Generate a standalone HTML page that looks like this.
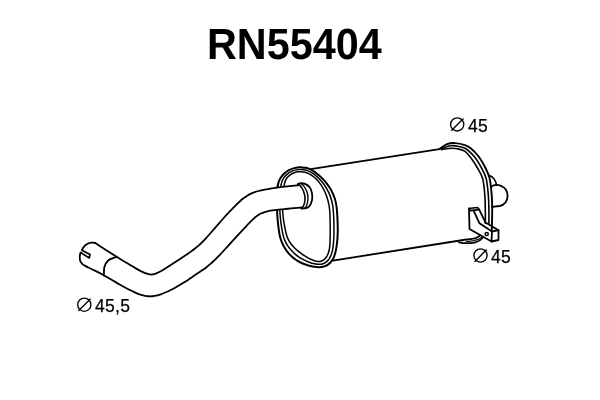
<!DOCTYPE html>
<html><head><meta charset="utf-8"><style>
html,body{margin:0;padding:0;background:#fff;width:600px;height:400px;overflow:hidden}
.t{will-change:transform}
.t{position:absolute;font-family:"Liberation Sans",sans-serif;line-height:1;color:#000;white-space:nowrap}
#title{left:207px;top:22px;font-size:43px;font-weight:bold;transform-origin:0 0;transform:scaleX(0.96)}
.lab{font-size:17.5px;letter-spacing:0.3px;-webkit-text-stroke:0.25px #000}
svg{position:absolute;left:0;top:0}
</style></head><body>
<svg width="600" height="80" viewBox="0 0 600 80" style="will-change:transform"><text x="207" y="58.5" transform="translate(207 0) scale(0.948 1) translate(-207 0)" font-family="Liberation Sans" font-weight="bold" font-size="43.6" text-rendering="geometricPrecision">RN55404</text></svg>
<svg width="600" height="400" viewBox="0 0 600 400">
<path d="M277.51 186.75 C277.73 185.39 278.01 184.10 278.39 182.87 C278.75 181.70 279.19 180.60 279.71 179.54 C280.23 178.50 280.83 177.51 281.50 176.58 C282.17 175.65 282.93 174.76 283.75 173.95 C284.57 173.13 285.46 172.36 286.40 171.69 C287.34 171.01 288.35 170.42 289.39 169.90 C290.43 169.38 291.53 168.94 292.63 168.58 C293.72 168.22 294.86 167.94 295.98 167.74 C297.09 167.54 298.22 167.42 299.32 167.37 C300.40 167.32 301.49 167.34 302.54 167.41 C303.54 167.48 304.52 167.61 305.47 167.79 C306.38 167.97 307.25 168.18 308.13 168.48 C309.03 168.79 309.90 169.16 310.79 169.61 C311.76 170.10 312.74 170.69 313.72 171.34 C314.78 172.04 315.87 172.84 316.94 173.69 C318.06 174.58 319.18 175.56 320.28 176.58 C321.42 177.64 322.55 178.76 323.63 179.93 C324.73 181.11 325.81 182.36 326.81 183.64 C327.80 184.91 328.74 186.24 329.60 187.58 C330.44 188.90 331.22 190.27 331.91 191.64 C332.59 192.97 333.19 194.34 333.72 195.68 C334.23 196.97 334.67 198.26 335.05 199.55 C335.42 200.81 335.72 202.06 335.98 203.35 C336.25 204.68 336.44 206.02 336.62 207.41 C336.81 208.87 336.94 210.40 337.06 211.92 C337.18 213.47 337.27 215.07 337.35 216.61 C337.43 218.10 337.48 219.58 337.54 221.01 C337.59 222.37 337.64 223.68 337.68 225.00 C337.71 226.29 337.75 227.55 337.75 228.84 C337.75 230.15 337.73 231.46 337.70 232.79 C337.67 234.14 337.62 235.50 337.54 236.87 C337.46 238.25 337.35 239.64 337.22 241.02 C337.09 242.40 336.93 243.80 336.74 245.17 C336.55 246.53 336.34 247.90 336.08 249.22 C335.83 250.51 335.55 251.79 335.21 253.02 C334.88 254.22 334.54 255.40 334.10 256.51 C333.67 257.59 333.21 258.64 332.63 259.61 C332.06 260.56 331.41 261.46 330.68 262.26 C329.96 263.05 329.15 263.77 328.31 264.39 C327.48 264.99 326.59 265.53 325.68 265.94 C324.78 266.34 323.84 266.64 322.88 266.85 C321.90 267.06 320.89 267.16 319.85 267.20 C318.74 267.24 317.59 267.18 316.41 267.07 C315.15 266.95 313.82 266.74 312.51 266.48 C311.14 266.21 309.75 265.85 308.37 265.45 C306.97 265.04 305.56 264.58 304.18 264.05 C302.79 263.52 301.40 262.92 300.07 262.25 C298.73 261.57 297.42 260.83 296.17 260.00 C294.92 259.17 293.72 258.27 292.58 257.29 C291.44 256.31 290.35 255.24 289.33 254.12 C288.30 252.99 287.33 251.79 286.43 250.54 C285.52 249.28 284.67 247.95 283.91 246.60 C283.16 245.26 282.48 243.87 281.90 242.48 C281.33 241.12 280.86 239.74 280.46 238.34 C280.06 236.95 279.78 235.56 279.50 234.12 C279.21 232.62 278.99 231.10 278.77 229.52 C278.53 227.85 278.33 226.11 278.13 224.36 C277.93 222.54 277.73 220.67 277.58 218.81 C277.42 216.93 277.30 215.03 277.20 213.14 C277.10 211.26 277.04 209.37 276.99 207.49 C276.94 205.63 276.93 203.77 276.91 201.93 C276.89 200.11 276.87 198.28 276.89 196.50 C276.91 194.76 276.93 193.02 277.04 191.36 C277.14 189.78 277.27 188.21 277.51 186.75Z" fill="none" stroke="#000" stroke-width="2.0" stroke-linejoin="round" stroke-linecap="round"/>
<path d="M280.61 187.23 C280.82 185.91 281.08 184.61 281.40 183.44 C281.69 182.39 282.00 181.45 282.41 180.52 C282.81 179.62 283.27 178.75 283.80 177.94 C284.33 177.12 284.93 176.35 285.61 175.63 C286.31 174.88 287.12 174.15 287.94 173.53 C288.75 172.92 289.60 172.39 290.50 171.91 C291.43 171.42 292.45 170.98 293.45 170.64 C294.42 170.31 295.41 170.07 296.40 169.88 C297.39 169.70 298.40 169.58 299.40 169.53 C300.39 169.48 301.40 169.51 302.35 169.59 C303.26 169.66 304.14 169.80 304.99 169.97 C305.80 170.14 306.54 170.33 307.32 170.60 C308.14 170.88 308.95 171.21 309.78 171.62 C310.68 172.06 311.59 172.59 312.50 173.18 C313.48 173.82 314.48 174.55 315.45 175.34 C316.49 176.18 317.53 177.12 318.54 178.12 C319.61 179.18 320.70 180.37 321.69 181.54 C322.65 182.68 323.56 183.82 324.41 185.03 C325.27 186.25 326.09 187.53 326.83 188.84 C327.58 190.16 328.28 191.58 328.89 192.92 C329.46 194.17 329.94 195.36 330.40 196.62 C330.86 197.89 331.28 199.22 331.63 200.49 C331.96 201.68 332.21 202.81 332.44 204.01 C332.68 205.24 332.87 206.49 333.03 207.79 C333.20 209.16 333.32 210.58 333.43 212.03 C333.54 213.56 333.61 215.22 333.68 216.76 C333.74 218.22 333.79 219.65 333.83 221.04 C333.87 222.36 333.91 223.61 333.93 224.91 C333.95 226.23 333.97 227.59 333.97 228.91 C333.97 230.21 333.97 231.47 333.95 232.76 C333.93 234.08 333.91 235.41 333.86 236.75 C333.81 238.12 333.74 239.54 333.65 240.90 C333.56 242.23 333.45 243.54 333.31 244.84 C333.17 246.13 333.01 247.45 332.79 248.69 C332.58 249.87 332.35 251.01 332.05 252.12 C331.76 253.19 331.43 254.27 331.04 255.25 C330.67 256.17 330.28 257.03 329.79 257.86 C329.30 258.69 328.71 259.52 328.10 260.21 C327.54 260.85 326.95 261.40 326.30 261.90 C325.65 262.40 324.92 262.86 324.19 263.21 C323.49 263.54 322.78 263.79 322.04 263.97 C321.29 264.15 320.53 264.25 319.71 264.29 C318.81 264.34 317.85 264.30 316.87 264.20 C315.79 264.09 314.62 263.87 313.48 263.59 C312.28 263.30 311.06 262.91 309.83 262.47 C308.53 262.00 307.16 261.43 305.88 260.84 C304.62 260.26 303.39 259.65 302.19 258.97 C300.98 258.29 299.81 257.56 298.65 256.76 C297.46 255.93 296.26 255.00 295.16 254.06 C294.09 253.14 293.08 252.19 292.12 251.18 C291.15 250.17 290.22 249.12 289.37 248.02 C288.52 246.93 287.72 245.79 287.00 244.60 C286.27 243.40 285.58 242.12 285.02 240.86 C284.49 239.66 284.07 238.46 283.69 237.23 C283.31 235.99 283.03 234.78 282.74 233.45 C282.42 231.99 282.13 230.40 281.86 228.83 C281.58 227.22 281.34 225.60 281.11 223.91 C280.86 222.11 280.62 220.18 280.43 218.34 C280.24 216.53 280.10 214.77 279.98 212.95 C279.86 211.09 279.78 209.16 279.73 207.31 C279.68 205.52 279.68 203.79 279.69 202.02 C279.70 200.22 279.74 198.35 279.81 196.59 C279.88 194.91 279.95 193.27 280.09 191.68 C280.22 190.16 280.38 188.65 280.61 187.23Z" fill="none" stroke="#000" stroke-width="1.5" stroke-linejoin="round" stroke-linecap="round"/>
<path d="M283.86 186.89 C284.02 185.97 284.28 184.43 284.58 183.30 C284.85 182.26 285.13 181.28 285.55 180.36 C285.96 179.45 286.47 178.59 287.08 177.80 C287.70 176.99 288.44 176.24 289.23 175.57 C290.04 174.89 290.95 174.28 291.89 173.77 C292.84 173.26 293.86 172.83 294.90 172.50 C295.95 172.17 297.05 171.94 298.15 171.81 C299.25 171.68 300.39 171.64 301.50 171.71 C302.62 171.78 303.74 171.96 304.84 172.23 C305.95 172.50 307.06 172.88 308.12 173.34 C309.20 173.81 310.26 174.38 311.27 175.02 C312.30 175.67 313.30 176.43 314.25 177.24 C315.23 178.07 316.17 178.99 317.07 179.96 C318.00 180.96 318.90 182.03 319.75 183.15 C320.63 184.31 321.46 185.53 322.24 186.81 C323.04 188.13 323.79 189.52 324.48 190.96 C325.19 192.45 325.84 194.04 326.42 195.62 C327.00 197.21 327.52 198.88 327.95 200.49 C328.37 202.05 328.72 203.61 329.00 205.14 C329.26 206.61 329.44 208.02 329.59 209.48 C329.74 210.95 329.82 212.41 329.90 213.94 C329.99 215.55 330.04 217.23 330.08 218.92 C330.13 220.68 330.15 222.52 330.17 224.30 C330.19 226.04 330.20 227.80 330.20 229.48 C330.20 231.06 330.21 232.58 330.20 234.08 C330.19 235.52 330.18 236.90 330.15 238.30 C330.12 239.69 330.08 241.06 330.00 242.44 C329.93 243.82 329.86 245.22 329.70 246.57 C329.54 247.89 329.36 249.22 329.06 250.48 C328.77 251.69 328.42 252.89 327.97 253.99 C327.54 255.04 327.03 256.07 326.43 256.96 C325.86 257.80 325.21 258.60 324.49 259.23 C323.80 259.83 323.04 260.35 322.22 260.71 C321.40 261.07 320.50 261.30 319.56 261.39 C318.54 261.48 317.44 261.37 316.33 261.17 C315.10 260.94 313.79 260.50 312.51 260.01 C311.15 259.49 309.76 258.80 308.41 258.09 C307.03 257.36 305.65 256.55 304.31 255.70 C302.96 254.84 301.64 253.91 300.36 252.94 C299.08 251.97 297.83 250.95 296.64 249.88 C295.46 248.82 294.31 247.70 293.25 246.54 C292.21 245.40 291.20 244.21 290.34 242.97 C289.50 241.77 288.76 240.52 288.14 239.23 C287.53 237.97 287.08 236.67 286.66 235.32 C286.22 233.94 285.91 232.52 285.57 231.04 C285.21 229.47 284.88 227.82 284.57 226.14 C284.24 224.38 283.93 222.53 283.66 220.70 C283.39 218.83 283.14 216.93 282.96 215.04 C282.78 213.15 282.64 211.26 282.56 209.37 C282.48 207.50 282.44 205.63 282.45 203.77 C282.46 201.93 282.52 200.08 282.62 198.27 C282.72 196.50 282.86 194.71 283.04 193.01 C283.21 191.39 283.48 189.40 283.64 188.29 C283.73 187.68 283.76 187.46 283.86 186.89Z" fill="none" stroke="#000" stroke-width="1.5" stroke-linejoin="round" stroke-linecap="round"/>
<path d="M310.6 169.2 L439.5 149.1" fill="none" stroke="#000" stroke-width="1.8" stroke-linejoin="round" stroke-linecap="round"/>
<path d="M332.9 260.6 L463.3 240 C468 239.3 473.3 238.9 476.5 237.8 L479.5 236" fill="none" stroke="#000" stroke-width="1.8" stroke-linejoin="round" stroke-linecap="round"/>
<path d="M439.50 149.10 C442.00 147.43 444.34 145.09 447.00 144.10 C449.52 143.16 452.19 142.98 455.00 143.10 C458.16 143.23 462.16 144.15 465.00 145.20 C467.33 146.06 468.98 146.94 471.00 148.50 C473.64 150.54 476.62 153.84 479.00 157.00 C481.49 160.31 483.71 164.35 485.50 168.00 C487.15 171.35 488.50 174.15 489.50 178.00 C490.76 182.85 491.25 189.50 491.70 195.00 C492.12 200.15 492.16 205.28 492.20 210.00 C492.24 214.22 492.07 218.40 492.00 222.00 C491.94 224.94 491.87 227.33 491.80 230.00" fill="none" stroke="#000" stroke-width="1.9" stroke-linejoin="round" stroke-linecap="round"/>
<path d="M441.50 148.70 C444.50 147.73 447.84 146.19 450.50 145.80 C452.53 145.50 453.96 145.61 456.00 145.90 C458.65 146.27 462.11 146.71 465.00 148.30 C468.49 150.22 472.21 154.12 475.00 157.50 C477.66 160.72 479.63 164.48 481.50 168.00 C483.26 171.32 484.89 174.13 486.00 178.00 C487.38 182.83 487.82 189.50 488.30 195.00 C488.75 200.15 488.80 205.13 488.90 210.00 C488.99 214.62 488.90 219.00 488.90 223.50" fill="none" stroke="#000" stroke-width="1.6" stroke-linejoin="round" stroke-linecap="round"/>
<path d="M441.50 149.60 C444.83 149.17 448.52 148.36 451.50 148.30 C453.90 148.26 455.82 148.42 458.00 148.90 C460.32 149.41 462.91 150.01 465.00 151.40 C467.29 152.93 469.06 155.48 471.00 158.00 C473.24 160.91 475.56 164.61 477.50 168.00 C479.38 171.28 481.30 174.11 482.50 178.00 C483.98 182.82 484.34 189.50 484.80 195.00 C485.23 200.15 485.20 205.13 485.30 210.00 C485.39 214.62 485.37 219.00 485.40 223.50" fill="none" stroke="#000" stroke-width="1.6" stroke-linejoin="round" stroke-linecap="round"/>
<path d="M489.3 175.5 C492.5 176.5 495.5 180 496.6 185" fill="none" stroke="#000" stroke-width="1.6" stroke-linejoin="round" stroke-linecap="round"/>
<path d="M492 186.2 C494.5 184.8 498 184.6 501 185.8 C505 187.5 507.8 191.5 507.6 196 C507.4 201 504.5 205 499.5 206 L492.2 206.9" fill="none" stroke="#000" stroke-width="1.8" stroke-linejoin="round" stroke-linecap="round"/>
<path d="M469 208.5 L477 207.5 C478 207.6 478.8 208.5 479.2 209.6 L470.5 210.6 Z" fill="#fff" stroke="#000" stroke-width="1.7" stroke-linejoin="round" stroke-linecap="round"/>
<path d="M469 208.5 L469.5 229 L491.5 241.5" fill="none" stroke="#000" stroke-width="1.8" stroke-linejoin="round" stroke-linecap="round"/>
<path d="M473.5 210.3 L479.5 223.3 L492 231.5 L498.5 230.2 L498.5 240 L491.5 241.5 L492 231.5" fill="none" stroke="#000" stroke-width="1.8" stroke-linejoin="round" stroke-linecap="round"/>
<path d="M479.2 209.6 L485.5 222.5 L498.5 230.2" fill="none" stroke="#000" stroke-width="1.8" stroke-linejoin="round" stroke-linecap="round"/>
<circle cx="486.7" cy="234" r="1.6" fill="none" stroke="#000" stroke-width="1.5"/>
<path d="M459 242.3 C463 243.2 469 243.6 475.3 242.3 C478.5 241.5 481.5 239.5 483.3 237.3" fill="none" stroke="#000" stroke-width="1.8" stroke-linejoin="round" stroke-linecap="round"/>
<path d="M466 241.2 C470 241.5 475 240.8 478.5 239.2 L481.5 237.5" fill="none" stroke="#000" stroke-width="1.2" stroke-linejoin="round" stroke-linecap="round"/>
<path d="M94.9 242.8 100.5 246.4 105.9 250.0 110.6 253.0 115.1 255.8 119.1 258.3 123.0 260.7 126.3 262.7 129.5 264.6 132.3 266.3 135.0 267.9 137.3 269.2 139.5 270.4 141.3 271.3 143.0 272.1 144.4 272.8 145.9 273.3 147.3 273.8 148.6 274.2 150.1 274.5 151.6 274.5 153.3 274.3 155.0 273.9 157.1 273.1 159.3 272.1 161.8 270.7 164.4 269.1 167.1 267.4 169.8 265.6 172.4 263.9 175.0 262.2 177.4 260.7 179.7 259.1 181.7 257.8 183.7 256.5 185.6 255.2 187.5 254.0 189.4 252.7 191.3 251.4 193.2 250.0 195.0 248.6 196.9 247.0 198.8 245.4 200.6 243.7 202.5 241.9 204.4 239.9 206.3 237.8 208.5 235.4 210.8 232.8 213.6 229.6 216.5 226.2 219.4 222.9 222.2 219.7 224.5 217.1 226.7 214.7 228.5 212.7 230.2 210.9 231.7 209.3 233.2 207.8 234.7 206.3 236.3 204.8 238.0 203.2 239.7 201.5 241.6 199.9 243.4 198.3 245.3 196.9 247.2 195.7 249.1 194.6 251.0 193.7 252.8 192.9 254.7 192.2 256.6 191.5 258.5 191.0 260.3 190.5 262.3 190.1 264.3 189.7 266.5 189.3 269.1 188.9 271.8 188.4 275.2 187.9 278.7 187.4 283.0 186.9 287.4 186.4 291.3 185.9 294.8 185.6 296.6 185.4 298.2 185.2 305.0 190.0 306.0 205.0 301.5 207.5 299.4 207.7 297.1 207.9 292.8 208.3 288.0 208.7 283.1 209.2 278.4 209.7 275.3 210.0 272.4 210.4 270.3 210.7 268.4 211.1 266.6 211.5 264.7 212.1 262.8 212.7 261.0 213.6 259.1 214.6 257.2 215.8 255.2 217.3 253.2 219.1 251.0 221.2 248.8 223.4 246.4 226.0 244.0 228.7 241.3 231.5 238.6 234.5 235.6 237.7 232.4 241.1 229.0 244.9 225.5 248.8 222.2 252.3 219.1 255.7 216.6 258.1 214.3 260.4 212.4 262.2 210.5 263.9 208.6 265.4 206.8 266.9 204.9 268.4 203.0 269.8 201.1 271.1 199.3 272.3 197.4 273.6 195.5 274.8 193.6 276.1 191.8 277.4 189.9 278.7 188.0 279.9 186.1 281.1 184.3 282.3 182.4 283.4 180.5 284.5 178.7 285.6 176.7 286.8 174.5 288.0 172.2 289.3 169.4 290.7 166.5 292.0 163.7 293.3 160.8 294.4 158.5 295.1 156.3 295.7 154.4 296.0 152.5 296.2 150.6 296.3 148.7 296.3 146.9 296.1 145.0 295.8 143.1 295.4 141.2 294.9 139.4 294.3 137.5 293.6 135.6 292.8 133.7 291.9 131.7 290.9 129.7 289.9 127.4 288.7 125.0 287.5 122.1 286.0 119.2 284.3 115.7 282.2 112.0 280.0 108.0 277.6 103.8 275.2 99.7 273.0 95.5 270.9 90.8 268.6 86.1 266.4 80.0 258.0Z" fill="#fff" stroke="none"/>
<path d="M94.90 242.80 C98.57 245.19 102.41 247.71 105.91 249.97 C109.09 252.02 112.11 253.96 115.05 255.81 C117.78 257.52 120.45 259.17 122.97 260.70 C125.25 262.09 127.43 263.38 129.52 264.62 C131.42 265.75 133.25 266.86 134.99 267.86 C136.55 268.76 138.05 269.62 139.46 270.36 C140.69 271.01 141.85 271.59 142.97 272.10 C143.98 272.56 144.92 272.97 145.89 273.33 C146.81 273.67 147.69 274.02 148.63 274.22 C149.58 274.42 150.54 274.56 151.55 274.52 C152.66 274.47 153.84 274.22 155.04 273.86 C156.41 273.45 157.83 272.78 159.29 272.06 C160.94 271.24 162.68 270.17 164.39 269.13 C166.19 268.04 168.04 266.80 169.83 265.63 C171.58 264.49 173.32 263.32 175.00 262.21 C176.59 261.16 178.16 260.13 179.66 259.14 C181.07 258.22 182.42 257.34 183.75 256.46 C185.03 255.61 186.27 254.80 187.52 253.96 C188.77 253.11 190.03 252.28 191.27 251.39 C192.53 250.49 193.78 249.56 195.02 248.58 C196.29 247.57 197.55 246.52 198.78 245.41 C200.04 244.28 201.27 243.10 202.50 241.87 C203.78 240.59 205.00 239.28 206.31 237.85 C207.76 236.27 209.23 234.57 210.82 232.77 C212.61 230.74 214.60 228.42 216.50 226.25 C218.40 224.07 220.41 221.75 222.20 219.72 C223.78 217.92 225.28 216.22 226.70 214.66 C227.94 213.30 229.09 212.05 230.23 210.86 C231.27 209.77 232.23 208.80 233.24 207.79 C234.24 206.78 235.22 205.82 236.27 204.81 C237.38 203.73 238.53 202.59 239.72 201.51 C240.92 200.42 242.18 199.29 243.45 198.31 C244.68 197.36 245.93 196.48 247.21 195.70 C248.44 194.94 249.70 194.28 250.97 193.68 C252.21 193.10 253.47 192.60 254.73 192.15 C255.97 191.71 257.21 191.34 258.46 191.00 C259.71 190.66 260.95 190.39 262.25 190.12 C263.62 189.83 265.00 189.59 266.50 189.32 C268.17 189.02 269.91 188.72 271.79 188.43 C273.94 188.09 276.29 187.75 278.73 187.43 C281.46 187.07 284.63 186.70 287.40 186.38 C289.96 186.08 292.78 185.79 294.78 185.57 C296.15 185.42 297.09 185.32 298.25 185.20" fill="none" stroke="#000" stroke-width="1.8" stroke-linejoin="round" stroke-linecap="round"/>
<path d="M86.10 266.40 C89.22 267.89 92.44 269.36 95.46 270.86 C98.34 272.29 101.07 273.69 103.82 275.21 C106.59 276.74 109.38 278.45 112.02 280.01 C114.50 281.48 116.93 283.01 119.20 284.32 C121.21 285.48 123.13 286.52 124.96 287.49 C126.60 288.36 128.17 289.12 129.68 289.88 C131.08 290.58 132.40 291.27 133.73 291.90 C135.00 292.51 136.24 293.10 137.50 293.61 C138.74 294.11 139.98 294.57 141.24 294.94 C142.48 295.31 143.73 295.62 144.99 295.84 C146.23 296.06 147.49 296.20 148.74 296.27 C149.99 296.34 151.23 296.33 152.48 296.24 C153.75 296.15 154.98 295.98 156.30 295.70 C157.76 295.38 159.26 294.92 160.84 294.37 C162.65 293.74 164.65 292.89 166.53 292.05 C168.44 291.20 170.44 290.21 172.21 289.29 C173.81 288.46 175.29 287.62 176.73 286.79 C178.06 286.02 179.28 285.27 180.54 284.51 C181.79 283.76 183.02 283.02 184.26 282.26 C185.51 281.49 186.77 280.71 188.01 279.90 C189.26 279.08 190.50 278.23 191.75 277.38 C193.00 276.53 194.25 275.66 195.50 274.82 C196.75 273.98 198.01 273.18 199.26 272.34 C200.51 271.49 201.77 270.65 203.01 269.76 C204.27 268.85 205.52 267.91 206.76 266.93 C208.02 265.94 209.25 264.92 210.49 263.85 C211.77 262.75 213.00 261.67 214.33 260.41 C215.85 258.97 217.40 257.41 219.09 255.66 C221.08 253.59 223.32 251.12 225.49 248.76 C227.76 246.29 230.17 243.59 232.42 241.14 C234.53 238.84 236.61 236.61 238.60 234.47 C240.46 232.47 242.25 230.56 244.00 228.68 C245.66 226.89 247.25 225.10 248.84 223.45 C250.32 221.91 251.76 220.38 253.22 219.06 C254.55 217.86 255.85 216.75 257.19 215.81 C258.43 214.94 259.69 214.18 260.97 213.55 C262.20 212.94 263.45 212.47 264.71 212.06 C265.94 211.66 267.16 211.37 268.42 211.10 C269.72 210.82 270.93 210.62 272.40 210.41 C274.20 210.15 276.19 209.94 278.44 209.69 C281.27 209.38 284.89 209.04 288.05 208.74 C291.12 208.45 294.65 208.13 297.13 207.90 C298.85 207.74 300.04 207.63 301.50 207.50" fill="none" stroke="#000" stroke-width="1.8" stroke-linejoin="round" stroke-linecap="round"/>
<path d="M82 250.2 C83.5 246.5 87 243.3 91 242.7 C92.5 242.5 93.8 242.6 94.9 242.8" fill="none" stroke="#000" stroke-width="1.8" stroke-linejoin="round" stroke-linecap="round"/>
<path d="M80.6 252.6 C79.6 255.5 79.6 259 80.4 261.4 C81.3 263.4 83 265 86.1 266.4" fill="none" stroke="#000" stroke-width="1.8" stroke-linejoin="round" stroke-linecap="round"/>
<path d="M82 250.2 L90 254.5 L89.3 257.9 L80.6 252.6" fill="none" stroke="#000" stroke-width="1.7" stroke-linejoin="round" stroke-linecap="round"/>
<path d="M116.50 256.90 C113.80 258.03 110.44 258.52 108.40 260.30 C106.47 261.99 105.16 264.61 104.40 267.10 C103.61 269.69 104.07 272.77 103.90 275.60" fill="none" stroke="#000" stroke-width="1.8" stroke-linejoin="round" stroke-linecap="round"/>
<path d="M297.9 184.3 C303 187 305.5 195 305 200 C304.5 204 303.5 207 301.5 208.5" fill="none" stroke="#000" stroke-width="1.6" stroke-linejoin="round" stroke-linecap="round"/>
<path d="M301 183.5 C306 187 308.5 194 308 199 C307.5 204 306.5 207 304.5 208.5" fill="none" stroke="#000" stroke-width="1.4" stroke-linejoin="round" stroke-linecap="round"/>
<path d="M297.9 183.9 C302 182.5 306 183.5 309.5 187 C312 190 312.8 196 312 200 C311.2 204 309 207.5 306 208.2 L301.5 208.6" fill="none" stroke="#000" stroke-width="1.8" stroke-linejoin="round" stroke-linecap="round"/>
<circle cx="457.2" cy="124.4" r="6.6" fill="none" stroke="#000" stroke-width="1.35"/><line x1="451.26" y1="130.67" x2="463.47" y2="118.46" stroke="#000" stroke-width="1.35"/><circle cx="480.5" cy="255.5" r="6.6" fill="none" stroke="#000" stroke-width="1.35"/><line x1="474.56" y1="261.77" x2="486.77" y2="249.56" stroke="#000" stroke-width="1.35"/><circle cx="84.3" cy="304.7" r="6.6" fill="none" stroke="#000" stroke-width="1.35"/><line x1="78.36" y1="310.97" x2="90.57" y2="298.76" stroke="#000" stroke-width="1.35"/>
</svg>
<div class="t lab" style="left:468px;top:118px">45</div>
<div class="t lab" style="left:491px;top:249px">45</div>
<div class="t lab" style="left:95px;top:298px">45,5</div>
</body></html>
